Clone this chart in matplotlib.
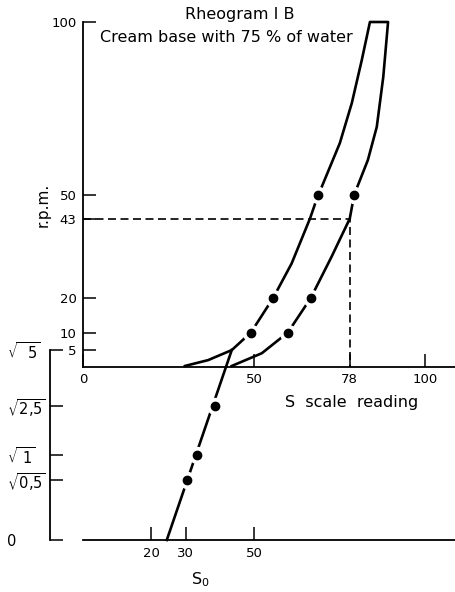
import numpy as np
import matplotlib.pyplot as plt

# values (S scale reading vs r.p.m.)
left_s = [29.8, 36.6, 43.5, 49.1, 55.6, 61.0, 66.4, 68.8, 69.8, 75.1, 78.6, 81.5, 83.9]
left_rpm = [0.3, 2.0, 4.9, 10.0, 20.0, 30.0, 43.1, 50.0, 52.2, 64.9, 76.5, 88.9, 100]
right_s = [43.5, 52.3, 59.9, 66.6, 72.7, 78.0, 79.3, 80.4, 83.3, 85.9, 87.8, 89.2]
right_rpm = [0.3, 4.0, 10.0, 20.0, 32.0, 43.0, 50.0, 52.7, 60.0, 69.6, 84.1, 100]

left_dot_s = [49.1, 55.6, 68.8]
right_dot_s = [59.9, 66.6, 79.3]
dot_rpm = [10, 20, 50]

# yield value plot: S against sqrt(r.p.m.)
so_line_s = [24.5, 43.5]
so_line_rpm = [0, 5]
so_dot_s = [30.3, 33.4, 38.6]
so_dot_rpm = [0.5, 1, 2.5]

read_s = 78
read_rpm = 43

top_xticks = [0, 50, 78, 100]
top_yticks = [5, 10, 20, 43, 50, 100]
bot_xticks = [20, 30, 50]
bot_yticks = [0, 0.5, 1, 2.5, 5]
bot_ylabels = ['0', r'$\sqrt{0{,}5}$', r'$\sqrt{\ 1}$', r'$\sqrt{2{,}5}$', r'$\sqrt{\ \ 5}$']

W, H = 455, 592
plt.rcParams['font.family'] = 'DejaVu Sans'
plt.rcParams['mathtext.fontset'] = 'dejavusans'


def px(x, y):
    return x / W, 1 - y / H


fig = plt.figure(figsize=(W / 100, H / 100), dpi=100)
x0, x1 = 83, 455
s_max = (x1 - x0) / 3.42

ax = fig.add_axes([x0 / W, 1 - 367 / H, (x1 - x0) / W, (367 - 22) / H])
ax.set_xlim(0, s_max)
ax.set_ylim(0, 100)

axb = fig.add_axes([x0 / W, 1 - 540 / H, (x1 - x0) / W, (540 - 350) / H])
axb.set_xlim(0, s_max)
axb.set_yscale('function', functions=(lambda v: np.sqrt(np.clip(v, 0, None)), np.square))
axb.set_ylim(0, 5)

for a in (ax, axb):
    a.patch.set_visible(False)
    a.spines['top'].set_visible(False)
    a.spines['right'].set_visible(False)
    for sp in ('left', 'bottom'):
        a.spines[sp].set_linewidth(1.3)
    a.tick_params(direction='in', length=9.5, width=1.1, labelsize=9.5, pad=4.5)

axb.spines['left'].set_position(('outward', 33 * 0.72))

# hysteresis loop
loop_s = left_s + right_s[::-1]
loop_rpm = left_rpm + right_rpm[::-1]
ax.plot(loop_s, loop_rpm, color='black', lw=1.9, zorder=3, clip_on=False,
        solid_joinstyle='round')
ax.plot([0, read_s, read_s], [read_rpm, read_rpm, 0], color='black', lw=1.2,
        dashes=(4.8, 2.7), zorder=2)

axb.plot(so_line_s, so_line_rpm, color='black', lw=1.9, zorder=3, clip_on=False)

for a, xs, ys in [(ax, left_dot_s, dot_rpm), (ax, right_dot_s, dot_rpm),
                  (axb, so_dot_s, so_dot_rpm)]:
    a.plot(xs, ys, 'o', ms=11.5, color='white', zorder=4, clip_on=False)
    a.plot(xs, ys, 'o', ms=6, color='black', zorder=5, clip_on=False)

ax.set_xticks(top_xticks)
ax.set_xticklabels([str(v) for v in top_xticks])
ax.set_yticks(top_yticks)
ax.set_yticklabels([str(v) for v in top_yticks])

axb.set_xticks(bot_xticks)
axb.set_xticklabels([str(v) for v in bot_xticks])
axb.tick_params(axis='x', pad=5)
axb.set_yticks(bot_yticks)
axb.set_yticklabels(bot_ylabels, ha='left')
axb.tick_params(axis='y', pad=31, labelsize=10.5)

fig.text(*px(240, 15), 'Rheogram I B', ha='center', va='center', fontsize=11.5)
fig.text(*px(226, 38), 'Cream base with 75 % of water', ha='center', va='center',
         fontsize=11.5)
fig.text(*px(352, 402), 'S  scale  reading', ha='center', va='center', fontsize=11.5)
fig.text(*px(43, 205), 'r.p.m.', ha='center', va='center', rotation=90, fontsize=11)
fig.text(*px(200, 580), r'S$_\mathregular{0}$', ha='center', va='center', fontsize=11.5)

fig.savefig('out.png', dpi=100)
